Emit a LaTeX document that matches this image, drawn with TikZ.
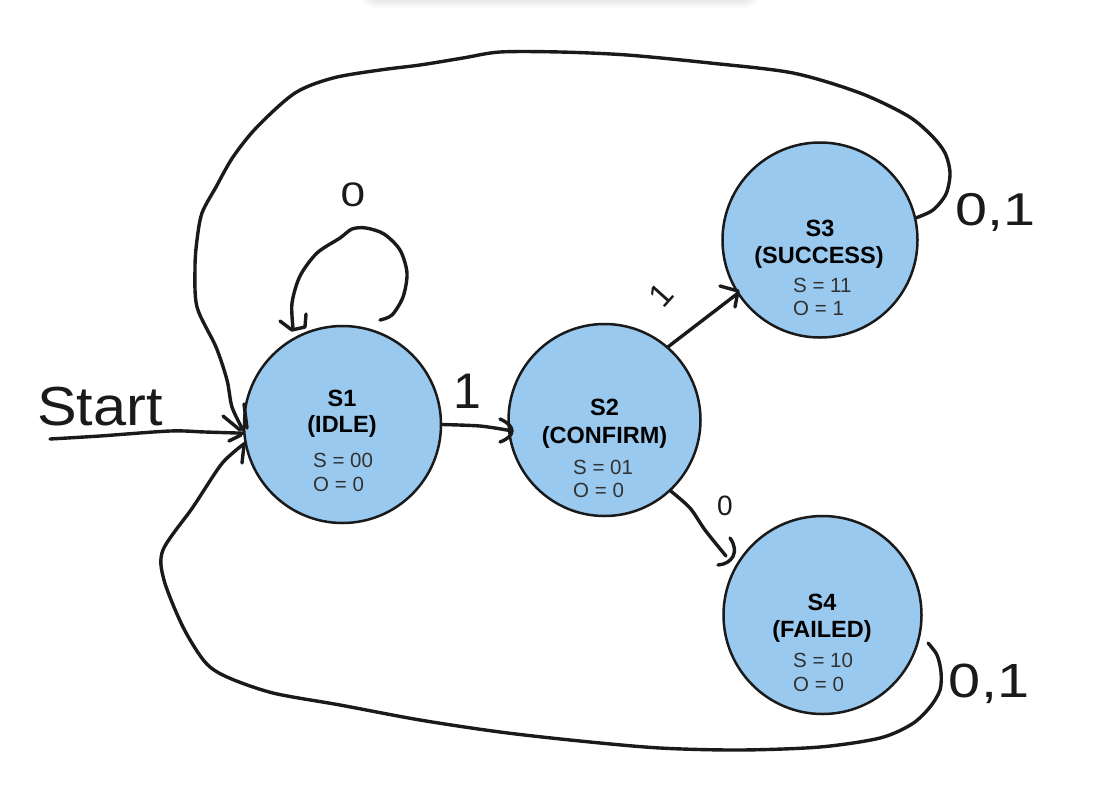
\documentclass[tikz,border=0pt]{standalone}
\usepackage{fontspec}
\setmainfont{Liberation Sans}
\definecolor{stfill}{RGB}{153,201,238}
\definecolor{ink}{RGB}{26,26,26}
\tikzset{
  stnode/.style={circle, draw=ink, line width=2.5pt, fill=stfill, minimum size=#1, inner sep=0pt},
  hand/.style={draw=ink, line width=3.4pt, line cap=round, line join=round},
  sttitle/.style={font=\fontsize{23.5}{26}\selectfont\bfseries, text=black, anchor=base, inner sep=0pt},
  stval/.style={font=\fontsize{20.5}{23}\selectfont, text=ink!90, anchor=base west, inner sep=0pt},
  handlab/.style={text=ink, inner sep=0pt, anchor=base},
}
\begin{document}
\begin{tikzpicture}[x=1pt,y=-1pt]
\path[use as bounding box, fill=white] (0,0) rectangle (1097,788);
% top shadow
\begin{scope}
\clip (0,0) rectangle (1097,30);
\foreach \i in {1,...,12}{
  \fill[black,opacity=0.012,rounded corners=14pt] (372-\i,-30) rectangle (748+\i,-4+\i);
}
\end{scope}

% states
\node[stnode=197pt] (s1) at (342.5,424.5) {};
\node[stnode=192pt] (s2) at (604.5,420) {};
\node[stnode=195pt] (s3) at (820,240) {};
\node[stnode=198pt] (s4) at (822.5,615) {};

\node[sttitle] (s1a) at (342,406) {S1};
\node[sttitle] (s1b) at (342,432) {(IDLE)};
\node[stval] (s1c) at (313,467) {S = 00};
\node[stval] (s1d) at (313,491) {O = 0};

\node[sttitle] (s2a) at (604.5,415) {S2};
\node[sttitle] (s2b) at (604.5,443) {(CONFIRM)};
\node[stval] (s2c) at (573,474) {S = 01};
\node[stval] (s2d) at (573,497) {O = 0};

\node[sttitle] (s3a) at (820,236) {S3};
\node[sttitle] (s3b) at (819,263) {(SUCCESS)};
\node[stval] (s3c) at (793,292) {S = 11};
\node[stval] (s3d) at (793,315) {O = 1};

\node[sttitle] (s4a) at (822,610) {S4};
\node[sttitle] (s4b) at (822,637) {(FAILED)};
\node[stval] (s4c) at (793,667) {S = 10};
\node[stval] (s4d) at (793,691) {O = 0};

% hand-written labels
\node[handlab, font=\fontsize{55}{60}\selectfont, xscale=1.08] (startlab) at (100,425) {Start};
\node[handlab, font=\fontsize{34}{40}\selectfont, xscale=1.3] (lab0a) at (353,206) {0};
\node[handlab, font=\fontsize{50}{56}\selectfont] (lab1a) at (467,408) {1};
\node[handlab, font=\fontsize{33}{38}\selectfont, rotate=48, anchor=center] (lab1b) at (661,295) {1};
\node[handlab, font=\fontsize{28}{32}\selectfont] (lab0b) at (725,515) {0};
\node[handlab, font=\fontsize{46}{52}\selectfont, xscale=1.25] (lab01a) at (995,225) {0,1};
\node[handlab, font=\fontsize{48}{54}\selectfont, xscale=1.2] (lab01b) at (989,697) {0,1};

% start arrow
\coordinate (startpt) at (50,439);
\draw[hand] plot[smooth] coordinates {(startpt) (100,436) (170,431) (205,432) (s1.185)};
\draw[hand] (229,441) -- (241,435);

% self loop on S1
\coordinate (loopst) at (380,320);
\coordinate (loopen) at (293,328);
\draw[hand] plot[smooth] coordinates {(loopst) (392,315) (403,297) (407,273) (400,250) (384,234) (366,228) (352,229) (340,238) (317,253) (300,276) (292,303) (loopen)};
\draw[hand] (280,321) -- (292,330) -- (305,327) -- (306,314);

% S1 -> S2
\draw[hand] plot[smooth] coordinates {(s1.east) (480,426) (s2.186)};
\draw[hand] (500,419) .. controls (516,426) and (516,436) .. (500,442);

% S2 -> S3
\draw[hand] (s2.49) -- (s3.213);
\draw[hand] (720,286) -- (738,291) -- (735,307);

% S2 -> S4
\coordinate (s4in) at (726,556);
\draw[hand] plot[smooth] coordinates {(s2.313) (690,508) (705,530) (s4in)};
\draw[hand] (730,538) .. controls (740,552) and (732,564) .. (718,565);

% S3 -> S1 (top)
\draw[hand] plot[smooth] coordinates {(s3.13) (933,210) (946,194) (950,173) (945,153) (932,136) (908,116) (860,93) (793,73) (710,63) (627,55) (560,52) (500,52) (463,58) (420,65) (380,70) (333,78) (295,93) (257,127) (233,157) (216,187) (202,213) (197,240) (195,267) (197,307) (216,347) (227,380) (232,407) (s1.183)};
\draw[hand] (223,416) -- (240,430);
\draw[hand] (244,404) -- (247,428);

% S4 -> S1 (bottom)
\coordinate (s4out) at (928,643);
\draw[hand] plot[smooth] coordinates {(s4out) (937,655) (941,672) (940,690) (930,707) (912,724) (880,738) (820,747) (740,750) (660,748) (580,741) (500,732) (420,720) (340,705) (273,693) (227,677) (205,662) (183,627) (164,580) (163,550) (193,507) (220,466) (235,451) (s1.191)};
\draw[hand] (242,463) -- (244,445);
\end{tikzpicture}
\end{document}
